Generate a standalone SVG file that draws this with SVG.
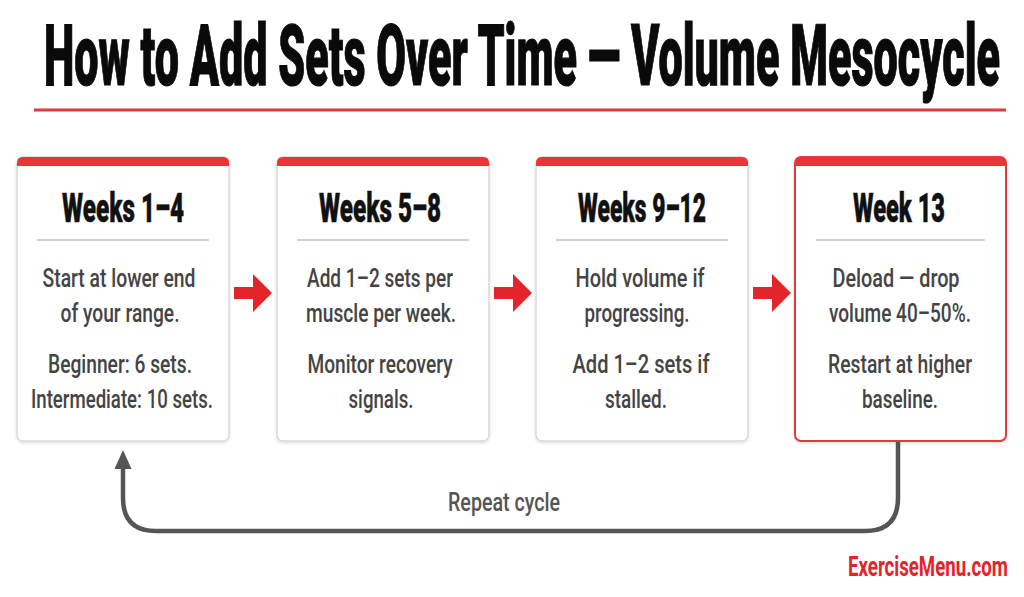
<svg xmlns="http://www.w3.org/2000/svg" width="1024" height="597" viewBox="0 0 1024 597">
<defs>
<style>
.title{font-family:"Roboto","Liberation Sans",sans-serif;font-weight:900;font-size:43px;fill:#0a0a0a;stroke:#0a0a0a;stroke-width:0.6}
.hdr{font-family:"Roboto","Liberation Sans",sans-serif;font-weight:900;font-size:41px;fill:#111;text-anchor:middle;stroke:#111;stroke-width:0.5}
.body{font-family:"Roboto","Liberation Sans",sans-serif;font-weight:500;font-size:26px;fill:#444;text-anchor:middle}
.box{fill:#fff;stroke:#d9d9d9;stroke-width:1.5}
.boxr{fill:#fff;stroke:#e03a3e;stroke-width:2}
.bar{fill:#ec3338}
.div{stroke:#d0d0d0;stroke-width:2}
.arr{fill:#e3242b}
.loop{fill:none;stroke:#555;stroke-width:4.5}
.lbl{font-family:"Roboto","Liberation Sans",sans-serif;font-weight:500;font-size:25px;fill:#555;text-anchor:middle}
.brand{font-family:"Roboto","Liberation Sans",sans-serif;font-weight:bold;font-size:18px;fill:#e3242b}
</style>
<filter id="sh" x="-10%" y="-10%" width="120%" height="120%">
<feDropShadow dx="0" dy="1.5" stdDeviation="1.5" flood-color="#000" flood-opacity="0.12"/>
</filter>
</defs>
<rect width="1024" height="597" fill="#fff"/>
<g id="title">
<text class="title" transform="translate(44,85) scale(1,2)" x="0" y="0" textLength="956" lengthAdjust="spacingAndGlyphs">How to Add Sets Over Time — Volume Mesocycle</text>
<rect x="34" y="108.5" width="972" height="3" fill="#e0393e"/>
</g>
<g id="node1">
<rect class="box" x="17" y="157" width="212" height="284" rx="6" filter="url(#sh)"/>
<path class="bar" d="M17,166 V163 Q17,157 23,157 H223 Q229,157 229,163 V166 Z"/>
<text class="hdr" x="123" y="222" textLength="122" lengthAdjust="spacingAndGlyphs">Weeks 1–4</text>
<line class="div" x1="37" y1="240" x2="209" y2="240"/>
<text class="body" x="119" y="287" textLength="153" lengthAdjust="spacingAndGlyphs">Start at lower end</text>
<text class="body" x="120" y="322" textLength="119" lengthAdjust="spacingAndGlyphs">of your range.</text>
<text class="body" x="120" y="373" textLength="144" lengthAdjust="spacingAndGlyphs">Beginner: 6 sets.</text>
<text class="body" x="122" y="408" textLength="182" lengthAdjust="spacingAndGlyphs">Intermediate: 10 sets.</text>
</g>
<g id="node2">
<rect class="box" x="277" y="157" width="212" height="284" rx="6" filter="url(#sh)"/>
<path class="bar" d="M277,166 V163 Q277,157 283,157 H483 Q489,157 489,163 V166 Z"/>
<text class="hdr" x="380" y="222" textLength="122" lengthAdjust="spacingAndGlyphs">Weeks 5–8</text>
<line class="div" x1="297" y1="240" x2="469" y2="240"/>
<text class="body" x="380" y="287" textLength="146" lengthAdjust="spacingAndGlyphs">Add 1–2 sets per</text>
<text class="body" x="381" y="322" textLength="150" lengthAdjust="spacingAndGlyphs">muscle per week.</text>
<text class="body" x="380" y="373" textLength="145" lengthAdjust="spacingAndGlyphs">Monitor recovery</text>
<text class="body" x="381" y="408" textLength="65" lengthAdjust="spacingAndGlyphs">signals.</text>
</g>
<g id="node3">
<rect class="box" x="536" y="157" width="212" height="284" rx="6" filter="url(#sh)"/>
<path class="bar" d="M536,166 V163 Q536,157 542,157 H742 Q748,157 748,163 V166 Z"/>
<text class="hdr" x="642" y="222" textLength="128" lengthAdjust="spacingAndGlyphs">Weeks 9–12</text>
<line class="div" x1="556" y1="240" x2="728" y2="240"/>
<text class="body" x="640" y="287" textLength="129" lengthAdjust="spacingAndGlyphs">Hold volume if</text>
<text class="body" x="637" y="322" textLength="105" lengthAdjust="spacingAndGlyphs">progressing.</text>
<text class="body" x="641" y="373" textLength="137" lengthAdjust="spacingAndGlyphs">Add 1–2 sets if</text>
<text class="body" x="636" y="408" textLength="62" lengthAdjust="spacingAndGlyphs">stalled.</text>
</g>
<g id="node4">
<rect class="boxr" x="795" y="157" width="211" height="284" rx="6" filter="url(#sh)"/>
<path class="bar" d="M795,166 V163 Q795,157 801,157 H1000 Q1006,157 1006,163 V166 Z"/>
<text class="hdr" x="899" y="222" textLength="92" lengthAdjust="spacingAndGlyphs">Week 13</text>
<line class="div" x1="816" y1="240" x2="985" y2="240"/>
<text class="body" x="896" y="287" textLength="127" lengthAdjust="spacingAndGlyphs">Deload — drop</text>
<text class="body" x="900" y="322" textLength="142" lengthAdjust="spacingAndGlyphs">volume 40–50%.</text>
<text class="body" x="900" y="373" textLength="144" lengthAdjust="spacingAndGlyphs">Restart at higher</text>
<text class="body" x="900" y="408" textLength="76" lengthAdjust="spacingAndGlyphs">baseline.</text>
</g>
<g id="connectors">
<polygon class="arr" points="234,287 253,287 253,274 272,293 253,312 253,299 234,299"/>
<polygon class="arr" points="494,287 513,287 513,274 532,293 513,312 513,299 494,299"/>
<polygon class="arr" points="753,287 772,287 772,274 791,293 772,312 772,299 753,299"/>
<path class="loop" d="M898,442 V498 Q898,531 865,531 H156 Q123,531 123,498 V466"/>
<polygon fill="#555" points="123,450 131.5,469 114.5,469"/>
<text class="lbl" x="504" y="511" textLength="112" lengthAdjust="spacingAndGlyphs">Repeat cycle</text>
</g>
<g id="brand">
<text class="brand" transform="translate(848,576) scale(1,1.5)" x="0" y="0" textLength="160" lengthAdjust="spacingAndGlyphs">ExerciseMenu.com</text>
</g>
</svg>
